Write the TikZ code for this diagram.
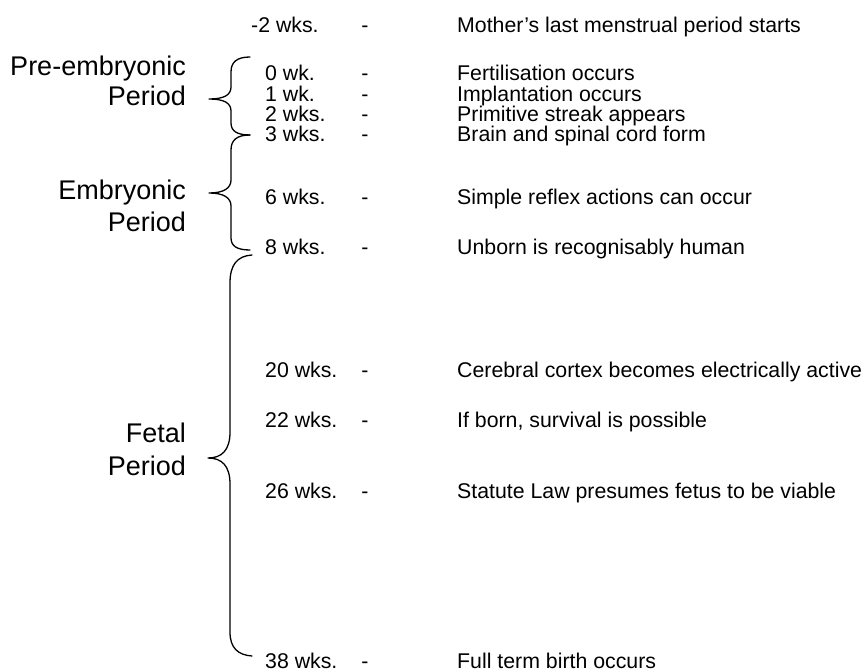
\documentclass[tikz,border=0pt]{standalone}
\usepackage{fontspec}
\setmainfont{Liberation Sans}
\begin{document}
\begin{tikzpicture}[x=1pt,y=-1pt,
  wk/.style={anchor=base west,inner sep=0pt,font=\fontsize{21.3}{25}\selectfont},
  dsh/.style={anchor=base,inner sep=0pt,font=\fontsize{21.3}{25}\selectfont},
  desc/.style={anchor=base west,inner sep=0pt,font=\fontsize{21.3}{25}\selectfont},
  lbl/.style={anchor=base east,inner sep=0pt,font=\fontsize{27}{32}\selectfont},
  brace/.style={line width=1.3pt,line cap=round,line join=round}]
\useasboundingbox (0,0) rectangle (866,671);
% rows
\foreach \n/\x/\w/\d/\y in {
  m2/251/{-2 wks.}/{Mother’s last menstrual period starts}/33,
  w0/265/{0 wk.}/{Fertilisation occurs}/81,
  w1/265/{1 wk.}/{Implantation occurs}/102,
  w2/265/{2 wks.}/{Primitive streak appears}/122,
  w3/265/{3 wks.}/{Brain and spinal cord form}/142,
  w6/265/{6 wks.}/{Simple reflex actions can occur}/204,
  w8/265/{8 wks.}/{Unborn is recognisably human}/254,
  w20/265/{20 wks.}/{Cerebral cortex becomes electrically active}/377,
  w22/265/{22 wks.}/{If born, survival is possible}/427,
  w26/265/{26 wks.}/{Statute Law presumes fetus to be viable}/498,
  w38/265/{38 wks.}/{Full term birth occurs}/668}{
  \node[wk] (\n-w) at (\x,\y) {\w};
  \node[dsh] (\n-s) at (365,\y) {-};
  \node[desc] (\n-d) at (457,\y) {\d};
}
% labels
\node[lbl] (pre1) at (186,76) {Pre-embryonic};
\node[lbl] (pre2) at (186,106) {Period};
\node[lbl] (emb1) at (186,199) {Embryonic};
\node[lbl] (emb2) at (186,231) {Period};
\node[lbl] (fet1) at (186,442) {Fetal};
\node[lbl] (fet2) at (186,475) {Period};
% braces
\draw[brace] (250,57) .. controls (237,57) and (231,62) .. (231,72) -- (231,87)
  .. controls (231,95) and (224,99) .. (209,99)
  .. controls (224,99) and (231,103) .. (231,111) -- (231,123)
  .. controls (231,131) and (237,135) .. (250,135);
\draw[brace] (250,135) .. controls (237,135) and (231,140) .. (231,150) -- (231,180)
  .. controls (231,188) and (224,193) .. (209,193)
  .. controls (224,193) and (231,198) .. (231,206) -- (231,238)
  .. controls (231,246) and (237,250) .. (250,250);
\draw[brace] (252,255) .. controls (237,256) and (230,265) .. (230,283) -- (230,432)
  .. controls (230,450) and (222,458) .. (208,458)
  .. controls (222,458) and (230,466) .. (230,484) -- (230,632)
  .. controls (230,648) and (238,655) .. (252,656);
\end{tikzpicture}
\end{document}
